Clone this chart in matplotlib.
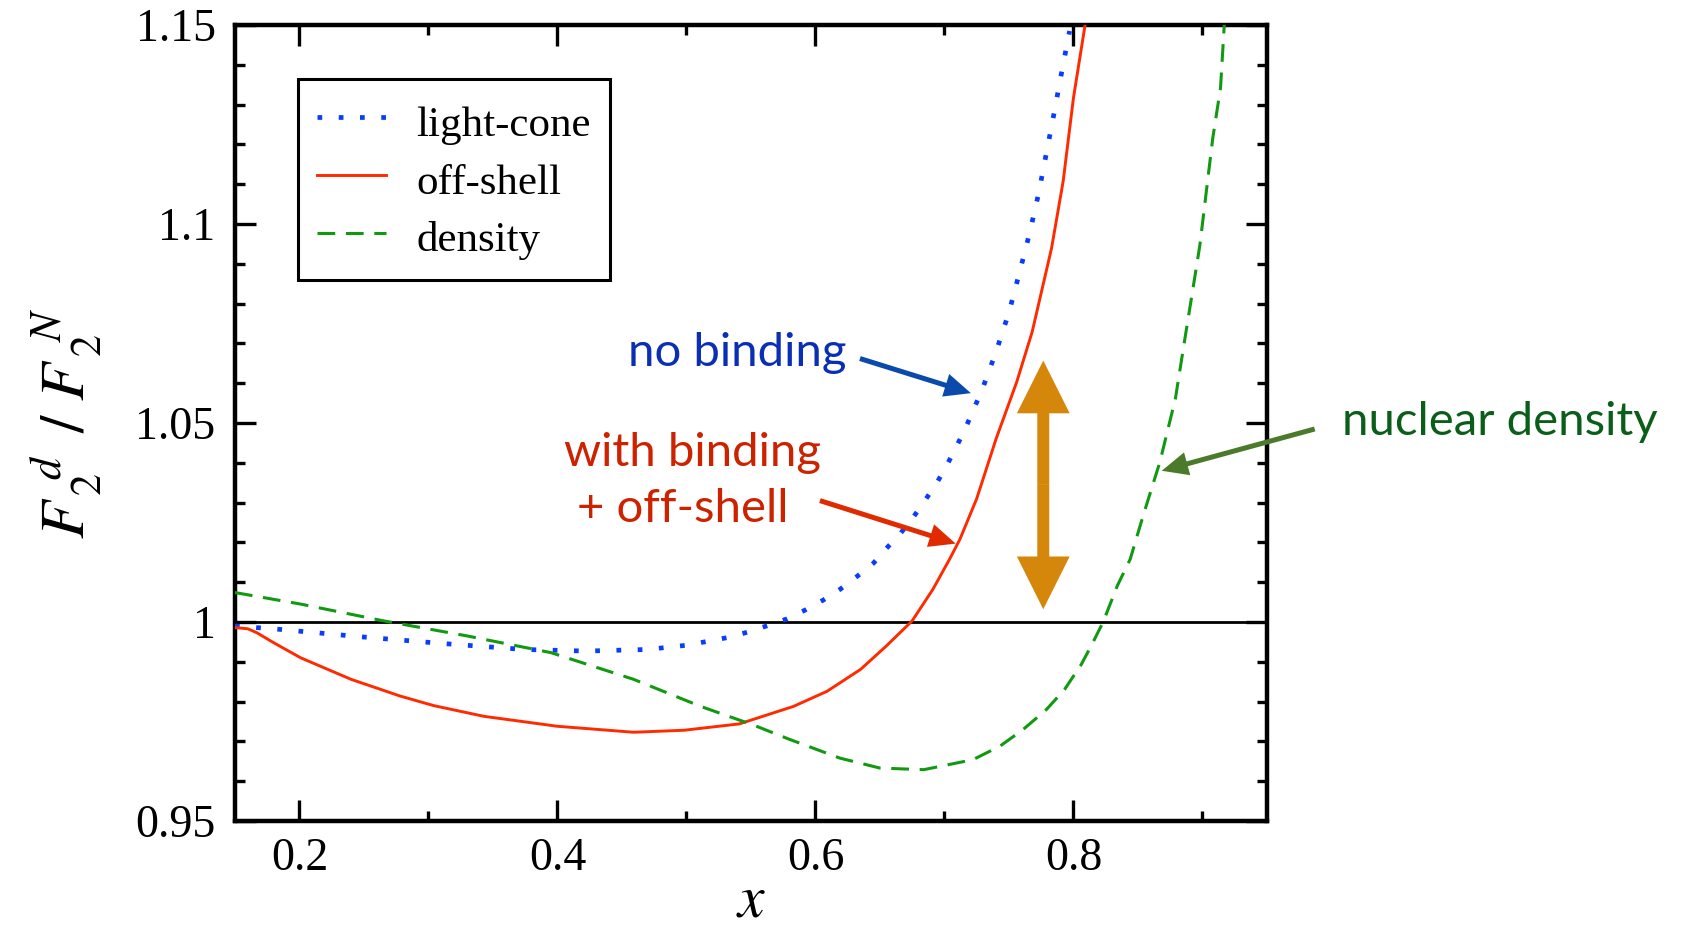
import numpy as np
import matplotlib
matplotlib.use("Agg")
import matplotlib.pyplot as plt
import matplotlib.ticker as ticker

# ---- data ----
x_lightcone = [0.150, 0.183, 0.247, 0.311, 0.374, 0.422, 0.470, 0.501, 0.532, 0.548,
               0.562, 0.578, 0.592, 0.606, 0.619, 0.632, 0.645, 0.655, 0.666, 0.676,
               0.685, 0.694, 0.702, 0.709, 0.716, 0.729, 0.740, 0.750, 0.758, 0.766,
               0.773, 0.779, 0.785, 0.791, 0.797]
y_lightcone = [0.9990, 0.9982, 0.9963, 0.9946, 0.9931, 0.9927, 0.9931, 0.9942, 0.9961, 0.9975,
               0.9990, 1.0008, 1.0030, 1.0055, 1.0082, 1.0114, 1.0148, 1.0185, 1.0223, 1.0264,
               1.0306, 1.0349, 1.0395, 1.0439, 1.0485, 1.0582, 1.0679, 1.0778, 1.0876, 1.0977,
               1.1077, 1.1178, 1.1279, 1.1384, 1.1485]

x_offshell = [0.150, 0.160, 0.167, 0.180, 0.201, 0.240, 0.278, 0.304, 0.343, 0.400,
              0.459, 0.498, 0.541, 0.583, 0.609, 0.635, 0.655, 0.675, 0.691,
              0.704, 0.712, 0.725, 0.740, 0.756, 0.768, 0.774, 0.783, 0.792, 0.800,
              0.809]
y_offshell = [0.9986, 0.9983, 0.9973, 0.9948, 0.9910, 0.9856, 0.9814, 0.9790, 0.9763, 0.9738,
              0.9723, 0.9728, 0.9744, 0.9788, 0.9826, 0.9881, 0.9940, 1.0003, 1.0082,
              1.0158, 1.0208, 1.0310, 1.0460, 1.0603, 1.0729, 1.0813, 1.0939, 1.1107, 1.1317,
              1.1500]

x_density = [0.150, 0.201, 0.265, 0.330, 0.395, 0.459, 0.511, 0.552, 0.580, 0.619,
             0.650, 0.684, 0.722, 0.743, 0.761, 0.779, 0.793, 0.806, 0.815, 0.823,
             0.834, 0.844, 0.854, 0.867, 0.879, 0.886, 0.892, 0.898, 0.903, 0.908,
             0.914, 0.917]
y_density = [1.0074, 1.0045, 1.0003, 0.9965, 0.9923, 0.9856, 0.9788, 0.9741, 0.9705, 0.9658,
             0.9633, 0.9629, 0.9654, 0.9688, 0.9730, 0.9780, 0.9830, 0.9893, 0.9948, 1.0000,
             1.0091, 1.0158, 1.0267, 1.0402, 1.0561, 1.0704, 1.0825, 1.0947, 1.1082, 1.1216,
             1.1342, 1.1505]

legend_labels = ["light-cone", "off-shell", "density"]
x_ticks = [0.2, 0.4, 0.6, 0.8]
y_ticks = [0.95, 1.0, 1.05, 1.1, 1.15]

# ---- style ----
plt.rcParams["font.family"] = "serif"
plt.rcParams["font.serif"] = ["Liberation Serif", "DejaVu Serif"]
plt.rcParams["mathtext.fontset"] = "stix"

C_BLUE = "#0a3cff"
C_RED = "#ff2a00"
C_GREEN = "#119911"
SANS = ["Lato", "DejaVu Sans"]

fig = plt.figure(figsize=(16.83, 9.30), dpi=100)
ax = fig.add_axes([0.1396, 0.1172, 0.6132, 0.8559])

ax.axhline(1.0, color="black", lw=2.0, zorder=1)

ax.plot(x_lightcone, y_lightcone, color=C_BLUE, lw=3.4, dashes=(1, 3.5),
        dash_capstyle="butt", label=legend_labels[0], zorder=3)
ax.plot(x_offshell, y_offshell, color=C_RED, lw=2.1, label=legend_labels[1], zorder=3)
ax.plot(x_density, y_density, color=C_GREEN, lw=2.2, dashes=(5.8, 3.5),
        label=legend_labels[2], zorder=3)

ax.set_xlim(0.15, 0.95)
ax.set_ylim(0.95, 1.15)
ax.set_xticks(x_ticks)
ax.set_yticks(y_ticks)
ax.xaxis.set_minor_locator(ticker.MultipleLocator(0.1))
ax.yaxis.set_minor_locator(ticker.MultipleLocator(0.01))
ax.xaxis.set_major_formatter(ticker.FuncFormatter(lambda v, p: f"{v:g}"))
ax.yaxis.set_major_formatter(ticker.FuncFormatter(lambda v, p: f"{v:g}"))
ax.tick_params(which="both", direction="in", top=True, right=True,
               width=2.4, labelsize=33)
ax.tick_params(which="major", length=15)
ax.tick_params(which="minor", length=7.2)
ax.tick_params(axis="x", pad=12)
ax.tick_params(axis="y", pad=14)
for sp in ax.spines.values():
    sp.set_linewidth(3.2)

ax.set_xlabel("$x$", fontsize=43)
ax.xaxis.set_label_coords(0.5, -0.068)
ax.set_ylabel(r"$F_{\,2}^{\;\,d}\ \,/\ F_{\,2}^{\;\,N}$", fontsize=45)
ax.yaxis.set_label_coords(-0.163, 0.5)
ax.yaxis.label.set_va("center")

leg = ax.legend(loc="upper left", bbox_to_anchor=(0.061, 0.932), borderaxespad=0,
                fontsize=31, handlelength=1.6, handletextpad=0.7,
                handleheight=1.25, labelspacing=0.27, borderpad=0.45,
                fancybox=False, edgecolor="black", framealpha=1)
leg.get_frame().set_linewidth(2.2)

# ---- annotations ----
ax.text(0.5395, 1.0642, "no binding", color="#0a2fb5", fontsize=34,
        family=SANS, ha="center", va="baseline")
ax.text(0.5047, 1.0393, "with binding", color="#cc2200", fontsize=34,
        family=SANS, ha="center", va="baseline")
ax.text(0.4973, 1.0251, "+ off-shell", color="#cc2200", fontsize=34,
        family=SANS, ha="center", va="baseline")
ax.text(1.0079, 1.0469, "nuclear density", color="#0b5e1a", fontsize=34,
        family=SANS, ha="left", va="baseline", clip_on=False)

thin = "simple,tail_width=3.6,head_width=17,head_length=19"
arrows = [((0.6345, 1.0662), (0.7205, 1.0575), "#0a4aaa"),
          ((0.6035, 1.0305), (0.7087, 1.0197), "#e02a00"),
          ((0.987, 1.0485), (0.8684, 1.0380), "#4a7a2a")]
for start, end, col in arrows:
    ax.annotate("", xy=end, xytext=start, annotation_clip=False,
                arrowprops=dict(arrowstyle=thin, color=col, lw=0,
                                shrinkA=0, shrinkB=0, mutation_scale=1))

# orange double arrow
x_or, y_lo, y_hi = 0.7766, 1.0032, 1.0657
y_mid = 0.5 * (y_lo + y_hi)
fat = "simple,tail_width=8.6,head_width=38,head_length=38"
for tip in (y_lo, y_hi):
    ax.annotate("", xy=(x_or, tip), xytext=(x_or, y_mid),
                arrowprops=dict(arrowstyle=fat, color="#d4870a", lw=0,
                                shrinkA=0, shrinkB=0, mutation_scale=1))

fig.savefig("out.png", dpi=100)
